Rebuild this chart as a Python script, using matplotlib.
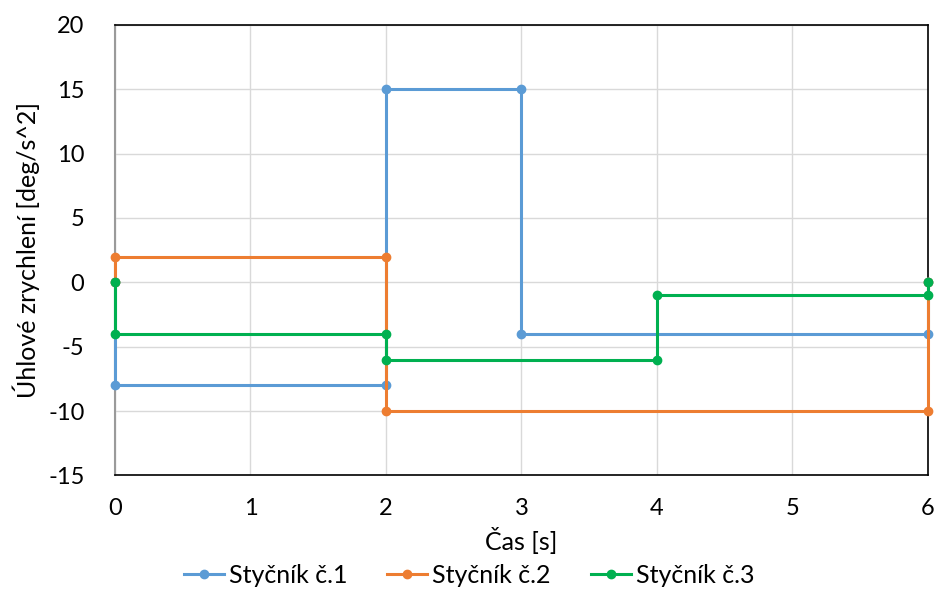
import matplotlib
matplotlib.use("Agg")
import matplotlib.pyplot as plt

plt.rcParams['font.family'] = ['Lato', 'DejaVu Sans']
plt.rcParams['axes.unicode_minus'] = False

# step profiles of angular acceleration
x1 = [0, 0, 2, 2, 3, 3, 6, 6]
y1 = [0, -8, -8, 15, 15, -4, -4, 0]
x2 = [0, 0, 2, 2, 6, 6]
y2 = [0, 2, 2, -10, -10, 0]
x3 = [0, 0, 2, 2, 4, 4, 6, 6]
y3 = [0, -4, -4, -6, -6, -1, -1, 0]
labels = ["Styčník č.1", "Styčník č.2", "Styčník č.3"]
colors = ["#5B9BD5", "#ED7D31", "#00B050"]

fig = plt.figure(figsize=(9.38, 6.06), dpi=100)
ax = fig.add_axes([0.1226, 0.2155, 0.8667, 0.7434])

for xs, ys, lab, c in zip([x1, x2, x3], [y1, y2, y3], labels, colors):
    ax.plot(xs, ys, color=c, lw=2.2, marker='o', ms=6, label=lab, clip_on=False, zorder=3)

ax.set_xlim(0, 6)
ax.set_ylim(-15, 20)
ax.set_yticks(range(-15, 21, 5))
ax.set_xticks(range(0, 7))
ax.grid(True, color='#D9D9D9', lw=1.0)
ax.tick_params(length=0, labelsize=17)
ax.tick_params(axis='x', pad=16)
ax.tick_params(axis='y', pad=22)
for s in ['top', 'bottom', 'right']:
    ax.spines[s].set_color('black')
    ax.spines[s].set_linewidth(1.2)
ax.spines['left'].set_color('#9A9A9A')
ax.spines['left'].set_linewidth(1.5)

ax.set_xlabel("Čas [s]", fontsize=18, labelpad=6)
ax.set_ylabel("Úhlové zrychlení [deg/s^2]", fontsize=18, labelpad=6)

fig.legend(loc='lower center', bbox_to_anchor=(0.5, -0.005), ncol=3, frameon=False,
           fontsize=18, handlelength=1.6, columnspacing=1.6, handletextpad=0.2)

fig.savefig("out.png", dpi=100)
